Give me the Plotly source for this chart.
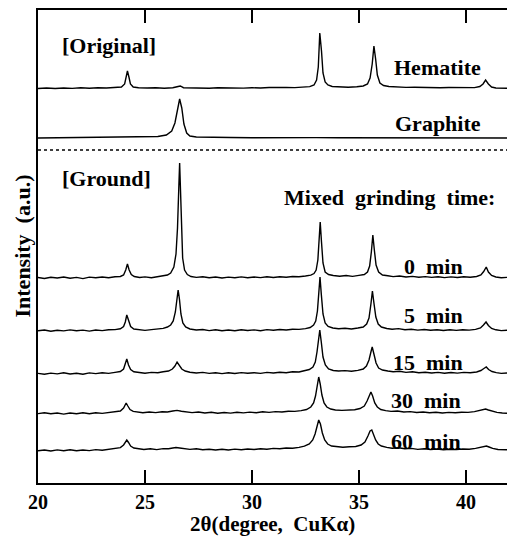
import plotly.graph_objects as go

# ---------------- data (2theta in degrees, intensity in a.u. above each baseline) -------------
hematite_orig = [(20.0,0.5),(20.4,1),(20.8,0.5),(21.2,1),(21.6,0.6),(22.0,1.2),(22.4,0.8),(22.8,1.3),(23.2,1),(23.6,1.5),
    (23.9,2),(24.05,5),(24.12,11),(24.18,18),(24.25,12),(24.32,5),(24.45,2),(24.7,1.2),(25.1,1),(25.5,1.3),(25.9,0.8),
    (26.3,1.2),(26.55,2.5),(26.65,3),(26.8,1.3),(27.2,1),(27.6,1.4),(28.0,0.8),(28.4,1.2),(28.8,1),(29.2,1.4),(29.6,0.9),
    (30.0,1.3),(30.4,1),(30.8,1.5),(31.2,1.2),(31.6,1.6),(32.0,1.4),(32.4,1.8),(32.7,2.4),(32.9,4),(33.02,9),(33.1,22),
    (33.17,56),(33.25,38),(33.32,16),(33.42,7),(33.55,4),(33.75,2.5),(34.1,2),(34.5,1.8),(34.9,2.2),(35.2,3),(35.4,5),
    (35.52,11),(35.62,25),(35.7,43),(35.78,30),(35.86,14),(35.98,6),(36.15,3.5),(36.4,2.5),(36.8,2),(37.2,1.6),(37.6,1.8),
    (38.0,1.4),(38.4,1.6),(38.8,1.2),(39.2,1.5),(39.6,1.3),(40.0,1.0),(40.4,1.4),(40.65,2.5),(40.8,5),(40.92,9),(41.05,5),
    (41.2,2),(41.4,1.0),(41.92,0.8)]

graphite_orig = [(20.0,0),(21,0.3),(22,0.2),(23,0.5),(24,0.6),(25,1),(25.6,1.5),(26.0,3),(26.25,7),(26.4,15),(26.52,30),
    (26.62,39),(26.72,30),(26.82,14),(26.95,5),(27.1,2),(27.4,1),(28,0.6),(29,0.5),(30,0.3),(31,0.5),(32,0.3),(33,0.4),
    (34,0.3),(35,0.2),(36,0.3),(37,0.2),(38,0.2),(39,0.2),(40,0),(41,0),(41.92,0)]

ground_0 = [(20.0,0.5),(20.3,-0.5),(20.6,0.8),(20.9,0.0),(21.2,1.0),(21.5,-0.3),(21.8,0.6),(22.1,-0.6),(22.4,0.9),(22.7,0.2),
    (23.0,1.0),(23.3,0.3),(23.6,1.2),(23.85,1.5),(24.0,3),(24.1,8),(24.18,14),(24.26,8),(24.36,3.5),(24.5,1.5),(24.75,0.5),
    (25.0,1.1),(25.3,0.2),(25.6,1.3),(25.85,1.8),(26.05,3),(26.2,5),(26.35,11),(26.45,24),(26.52,50),(26.58,90),(26.62,115),
    (26.66,88),(26.7,48),(26.76,20),(26.85,8),(26.98,3.5),(27.15,1.5),(27.4,0.6),(27.7,1.2),(28.0,0.2),(28.3,1.0),(28.6,0.0),
    (28.9,0.9),(29.2,0.3),(29.5,1.1),(29.8,0.2),(30.1,1.0),(30.4,0.4),(30.7,1.3),(31.0,0.5),(31.3,1.2),(31.6,0.7),(31.9,1.5),
    (32.2,1.2),(32.5,2.0),(32.75,2.8),(32.9,4.5),(33.0,8),(33.08,18),(33.14,38),(33.19,56),(33.25,36),(33.32,15),(33.42,6),
    (33.58,3.5),(33.8,2.5),(34.1,1.8),(34.4,2.5),(34.7,1.6),(35.0,2.6),(35.25,3.5),(35.4,6),(35.5,12),(35.58,26),(35.65,43),
    (35.72,28),(35.8,13),(35.92,6),(36.1,3),(36.35,2.2),(36.6,1.4),(36.9,2.0),(37.2,1.0),(37.5,1.6),(37.8,0.8),(38.1,1.4),
    (38.4,0.6),(38.7,1.2),(39.0,0.4),(39.3,1.1),(39.6,0.5),(39.9,1.2),(40.2,0.8),(40.5,1.5),(40.7,3),(40.83,6.5),(40.95,11),
    (41.05,6),(41.2,2.5),(41.4,1.0),(41.65,0.3),(41.92,0.6)]

ground_5 = [(20.0,0.2),(20.3,1.0),(20.6,-0.2),(20.9,0.8),(21.2,0.1),(21.5,1.1),(21.8,0.3),(22.1,0.9),(22.4,-0.1),(22.7,1.0),
    (23.0,0.4),(23.3,1.3),(23.6,1.4),(23.85,2.2),(24.0,4.5),(24.08,9),(24.15,16),(24.23,10),(24.33,4.5),(24.48,2),(24.7,1.2),
    (25.0,0.6),(25.3,1.4),(25.6,1.8),(25.85,2.6),(26.05,4),(26.2,6),(26.32,10),(26.42,19),(26.49,31),(26.55,41),(26.61,32),
    (26.68,17),(26.77,8),(26.9,4),(27.1,2),(27.4,1.0),(27.7,1.5),(28.0,0.4),(28.3,1.2),(28.6,0.3),(28.9,1.0),(29.2,0.2),
    (29.5,1.3),(29.8,0.5),(30.1,1.1),(30.4,0.3),(30.7,1.4),(31.0,0.8),(31.3,1.5),(31.6,1.0),(31.9,1.8),(32.2,1.6),(32.5,2.4),
    (32.72,3.5),(32.88,6),(32.98,10),(33.06,20),(33.12,38),(33.18,54),(33.24,37),(33.32,17),(33.42,8),(33.56,4.5),(33.78,3),
    (34.05,2.2),(34.35,2.8),(34.65,2.0),(34.95,3),(35.2,4),(35.36,7),(35.47,13),(35.56,27),(35.63,40),(35.7,28),(35.79,14),
    (35.9,7),(36.05,4),(36.3,2.5),(36.55,1.8),(36.85,2.4),(37.15,1.2),(37.45,1.8),(37.75,0.9),(38.05,1.5),(38.35,0.7),
    (38.65,1.3),(38.95,0.5),(39.25,1.2),(39.55,0.6),(39.85,1.3),(40.15,0.9),(40.45,1.6),(40.68,3),(40.82,6),(40.94,9),
    (41.05,5.5),(41.2,2.5),(41.4,1.2),(41.65,0.4),(41.92,0.8)]

ground_15 = [(20.0,0.6),(20.3,-0.3),(20.6,0.9),(20.9,0.1),(21.2,1.2),(21.5,0.0),(21.8,0.8),(22.1,-0.2),(22.4,1.1),(22.7,0.4),
    (23.0,1.2),(23.3,0.6),(23.6,1.6),(23.85,2.5),(24.0,5),(24.08,10),(24.15,15),(24.23,9),(24.33,4.5),(24.48,2.2),(24.7,1.3),
    (25.0,0.8),(25.3,1.6),(25.6,1.2),(25.85,2.2),(26.1,3),(26.28,5),(26.4,8),(26.5,12),(26.6,9),(26.72,5),(26.88,3),(27.1,1.8),
    (27.4,1.0),(27.7,1.6),(28.0,0.6),(28.3,1.3),(28.6,0.4),(28.9,1.2),(29.2,0.5),(29.5,1.4),(29.8,0.7),(30.1,1.3),(30.4,0.6),
    (30.7,1.6),(31.0,1.0),(31.3,1.8),(31.6,1.3),(31.9,2.2),(32.2,2.0),(32.45,3),(32.68,4.5),(32.85,7),(32.96,12),(33.04,22),
    (33.11,35),(33.17,44),(33.24,32),(33.32,17),(33.43,9),(33.58,5),(33.8,3.5),(34.05,3),(34.35,3.4),(34.65,2.8),(34.95,3.6),
    (35.2,5),(35.35,8),(35.47,14),(35.56,22),(35.62,27),(35.7,20),(35.8,11),(35.92,6),(36.1,4),(36.35,3),(36.6,2.2),(36.9,2.8),
    (37.2,1.6),(37.5,2.2),(37.8,1.2),(38.1,1.8),(38.4,1.0),(38.7,1.6),(39.0,0.8),(39.3,1.5),(39.6,0.9),(39.9,1.6),(40.2,1.2),
    (40.5,2.0),(40.7,3.5),(40.84,5.5),(40.95,7),(41.06,4.5),(41.22,2.5),(41.42,1.4),(41.65,0.6),(41.92,1.0)]

ground_30 = [(20.0,0.4),(20.3,1.2),(20.6,0.2),(20.9,1.0),(21.2,-0.1),(21.5,1.0),(21.8,0.3),(22.1,1.2),(22.4,0.2),(22.7,1.3),
    (23.0,0.6),(23.3,1.5),(23.6,1.8),(23.85,3),(24.0,6),(24.07,9),(24.12,11),(24.2,8),(24.3,4.5),(24.45,2.6),(24.65,1.8),
    (24.9,1.2),(25.2,2.0),(25.5,1.4),(25.8,2.2),(26.05,2.0),(26.3,3.0),(26.5,3.6),(26.7,2.8),(26.95,2.0),(27.2,1.4),(27.5,2.0),
    (27.8,1.0),(28.1,1.7),(28.4,0.8),(28.7,1.5),(29.0,0.9),(29.3,1.8),(29.6,1.1),(29.9,1.9),(30.2,1.3),(30.5,2.2),(30.8,1.6),
    (31.1,2.4),(31.4,2.0),(31.7,2.8),(32.0,2.6),(32.3,3.4),(32.55,4.5),(32.75,7),(32.88,11),(32.97,18),(33.05,28),(33.12,37),
    (33.19,30),(33.27,19),(33.37,11),(33.5,7),(33.68,5),(33.9,4),(34.2,3.6),(34.5,4.0),(34.8,4.2),(35.05,5.5),(35.25,8),
    (35.38,13),(35.48,19),(35.56,22),(35.64,18),(35.74,11),(35.86,7),(36.02,4.5),(36.25,3.4),(36.5,2.6),(36.8,3.0),(37.1,2.0),
    (37.4,2.4),(37.7,1.5),(38.0,2.0),(38.3,1.2),(38.6,1.8),(38.9,1.0),(39.2,1.6),(39.5,1.2),(39.8,1.8),(40.1,1.6),(40.4,2.4),
    (40.62,3.4),(40.8,4.5),(40.92,5),(41.05,4),(41.22,2.8),(41.45,1.6),(41.7,1.0),(41.92,0.8)]

ground_60 = [(20.0,0.3),(20.3,1.0),(20.6,0.0),(20.9,1.1),(21.2,0.3),(21.5,1.2),(21.8,0.2),(22.1,1.0),(22.4,0.4),(22.7,1.4),
    (23.0,0.7),(23.3,1.6),(23.6,2.0),(23.85,3.4),(24.0,6),(24.08,9.5),(24.15,11),(24.23,8.5),(24.33,5),(24.48,3),(24.7,2),
    (24.95,1.5),(25.25,2.2),(25.55,1.4),(25.85,2.4),(26.1,2.2),(26.3,3.0),(26.45,3.5),(26.62,3.0),(26.85,2.2),(27.1,1.6),
    (27.4,2.2),(27.7,1.2),(28.0,1.8),(28.3,1.0),(28.6,1.7),(28.9,1.0),(29.2,1.9),(29.5,1.2),(29.8,2.0),(30.1,1.5),(30.4,2.3),
    (30.7,1.8),(31.0,2.6),(31.3,2.2),(31.6,3.0),(31.9,2.8),(32.2,3.6),(32.45,4.8),(32.68,7),(32.84,11),(32.95,17),(33.04,25),
    (33.12,31),(33.2,27),(33.29,18),(33.4,11),(33.54,7),(33.72,5),(33.95,4.2),(34.25,3.8),(34.55,4.2),(34.85,4.5),(35.1,6),
    (35.28,9),(35.42,15),(35.52,20),(35.6,21),(35.68,17),(35.78,11),(35.9,7),(36.05,5),(36.3,3.6),(36.55,2.8),(36.85,3.2),
    (37.15,2.2),(37.45,2.6),(37.75,1.6),(38.05,2.2),(38.35,1.4),(38.65,2.0),(38.95,1.2),(39.25,1.8),(39.55,1.4),(39.85,2.0),
    (40.15,1.8),(40.45,2.6),(40.68,3.6),(40.85,4.6),(40.96,5),(41.08,4),(41.25,2.6),(41.5,1.5),(41.75,1.0),(41.92,1.2)]

series = [hematite_orig, graphite_orig, ground_0, ground_5, ground_15, ground_30, ground_60]
offsets = [394, 345, 205, 152, 109, 69, 32]          # vertical stacking of the patterns
separator_level = 333                                 # dotted line between original and ground
x_ticks = [20, 25, 30, 35, 40]
x_range = [20, 41.92]
y_range = [0, 473]

# ---------------- figure ----------------
FONT = "Liberation Serif"
fig = go.Figure()
for pts, off in zip(series, offsets):
    xs = [p[0] for p in pts]
    ys = [p[1] + off for p in pts]
    fig.add_trace(go.Scatter(x=xs, y=ys, mode="lines",
                             line=dict(color="black", width=1.4), showlegend=False, hoverinfo="skip"))

fig.add_shape(type="line", x0=x_range[0], x1=x_range[1], y0=separator_level, y1=separator_level,
              xref="x", yref="y", line=dict(color="black", width=1.5, dash="dot"))

labels = [
    ("[Original]", 21.03, 438, "left"),
    ("Hematite", 40.8, 416, "right"),
    ("Graphite", 40.8, 360, "right"),
    ("[Ground]", 21.03, 305, "left"),
    ("Mixed\u00a0\u00a0grinding\u00a0\u00a0time:", 41.45, 286, "right"),
    ("0\u00a0\u00a0min", 39.95, 217, "right"),
    ("5\u00a0\u00a0min", 39.95, 168, "right"),
    ("15\u00a0\u00a0min", 39.95, 121, "right"),
    ("30\u00a0\u00a0min", 39.86, 83, "right"),
    ("60\u00a0\u00a0min", 39.86, 42, "right"),
]
for txt, x, y, anc in labels:
    fig.add_annotation(text=txt, x=x, y=y, xref="x", yref="y", xanchor=anc, yanchor="middle",
                       showarrow=False, font=dict(family=FONT, size=22, color="black", weight="bold"))

fig.add_annotation(text="Intensity\u00a0\u00a0(a.u.)", xref="paper", yref="paper",
                   x=-16 / 469, y=0.5, xanchor="center", yanchor="middle", textangle=-90,
                   showarrow=False, font=dict(family=FONT, size=22, color="black", weight="bold"))

fig.add_annotation(text="2θ(degree,\u00a0\u00a0CuKα)", xref="paper", yref="paper",
                   x=0.5, y=-41 / 473, xanchor="center", yanchor="middle",
                   showarrow=False, font=dict(family=FONT, size=21, color="black", weight="bold"))

fig.update_xaxes(range=x_range, tickvals=x_ticks, ticktext=[str(t) for t in x_ticks],
                 ticks="inside", ticklen=13, tickwidth=1.5, tickcolor="black",
                 showline=True, linecolor="black", linewidth=1.5, mirror="allticks",
                 showgrid=False, zeroline=False,
                 tickfont=dict(family=FONT, size=20, color="black", weight="bold"))
fig.update_yaxes(range=y_range, showticklabels=False, ticks="", showline=True, linecolor="black",
                 linewidth=1.5, mirror=False, showgrid=False, zeroline=False)

fig.update_layout(width=507, height=536, margin=dict(l=38, r=0, t=10, b=53),
                  plot_bgcolor="white", paper_bgcolor="white")

fig.write_html("out.html")
